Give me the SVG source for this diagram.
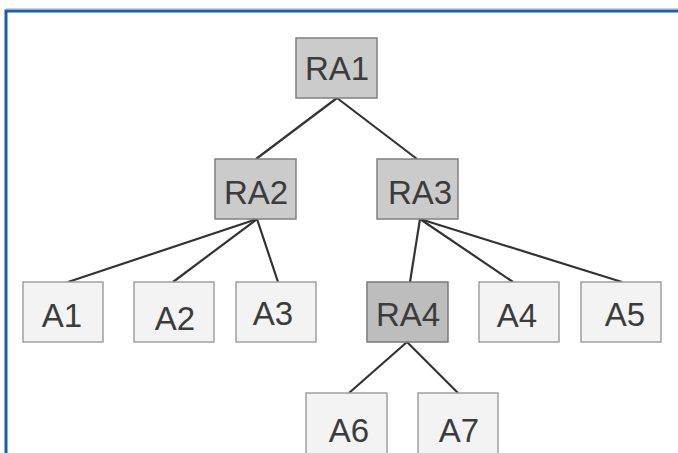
<svg xmlns="http://www.w3.org/2000/svg" width="678" height="453" viewBox="0 0 678 453">
  <style>
    .frame { fill: none; stroke: #1b5fab; stroke-width: 3; }
    .edge { fill: none; stroke: #333333; stroke-width: 2.2; }
    .ra rect { fill: #cbcbcb; stroke: #808080; stroke-width: 1.5; }
    .ra4 rect { fill: #bdbdbd; stroke: #7a7a7a; stroke-width: 1.5; }
    .leaf rect { fill: #f3f3f3; stroke: #a0a0a0; stroke-width: 1.5; }
    text { font-family: "Liberation Sans", Arial, sans-serif; font-size: 33px; fill: #3c3c3c; text-anchor: middle; }
  </style>
  <rect width="678" height="453" fill="#ffffff"/>
  <!-- open frame: left and top edges -->
  <path class="frame" d="M6,453 V11 H678"/>
  <line x1="6" y1="8.5" x2="678" y2="8.5" stroke="#c9d3de" stroke-width="1"/>

  <g id="connectors">
    <path class="edge" d="M337,98 L256,159"/>
    <path class="edge" d="M337,98 L417,159"/>
    <path class="edge" d="M257,219 L68,282"/>
    <path class="edge" d="M257,219 L173,282"/>
    <path class="edge" d="M257,219 L278,282"/>
    <path class="edge" d="M420,219 L410,282"/>
    <path class="edge" d="M420,219 L513,282"/>
    <path class="edge" d="M420,219 L622,282"/>
    <path class="edge" d="M407,342 L349,393"/>
    <path class="edge" d="M407,342 L458,393"/>
  </g>

  <g id="RA1" class="ra"><rect x="296" y="38" width="81" height="60"/><text x="337" y="80">RA1</text></g>
  <g id="RA2" class="ra"><rect x="215" y="159" width="81" height="60"/><text x="256" y="204">RA2</text></g>
  <g id="RA3" class="ra"><rect x="377" y="159" width="81" height="60"/><text x="420" y="204">RA3</text></g>

  <g id="A1" class="leaf"><rect x="23" y="282" width="80" height="60"/><text x="62" y="327">A1</text></g>
  <g id="A2" class="leaf"><rect x="134" y="282" width="80" height="60"/><text x="175" y="330">A2</text></g>
  <g id="A3" class="leaf"><rect x="236" y="282" width="80" height="60"/><text x="273" y="325">A3</text></g>
  <g id="RA4" class="ra4"><rect x="367" y="282" width="81" height="60"/><text x="408" y="326">RA4</text></g>
  <g id="A4" class="leaf"><rect x="479" y="282" width="80" height="60"/><text x="517" y="327">A4</text></g>
  <g id="A5" class="leaf"><rect x="581" y="282" width="80" height="60"/><text x="625" y="326">A5</text></g>

  <g id="A6" class="leaf"><rect x="306" y="393" width="81" height="62"/><text x="349" y="442">A6</text></g>
  <g id="A7" class="leaf"><rect x="418" y="393" width="80" height="62"/><text x="459" y="442">A7</text></g>
</svg>
